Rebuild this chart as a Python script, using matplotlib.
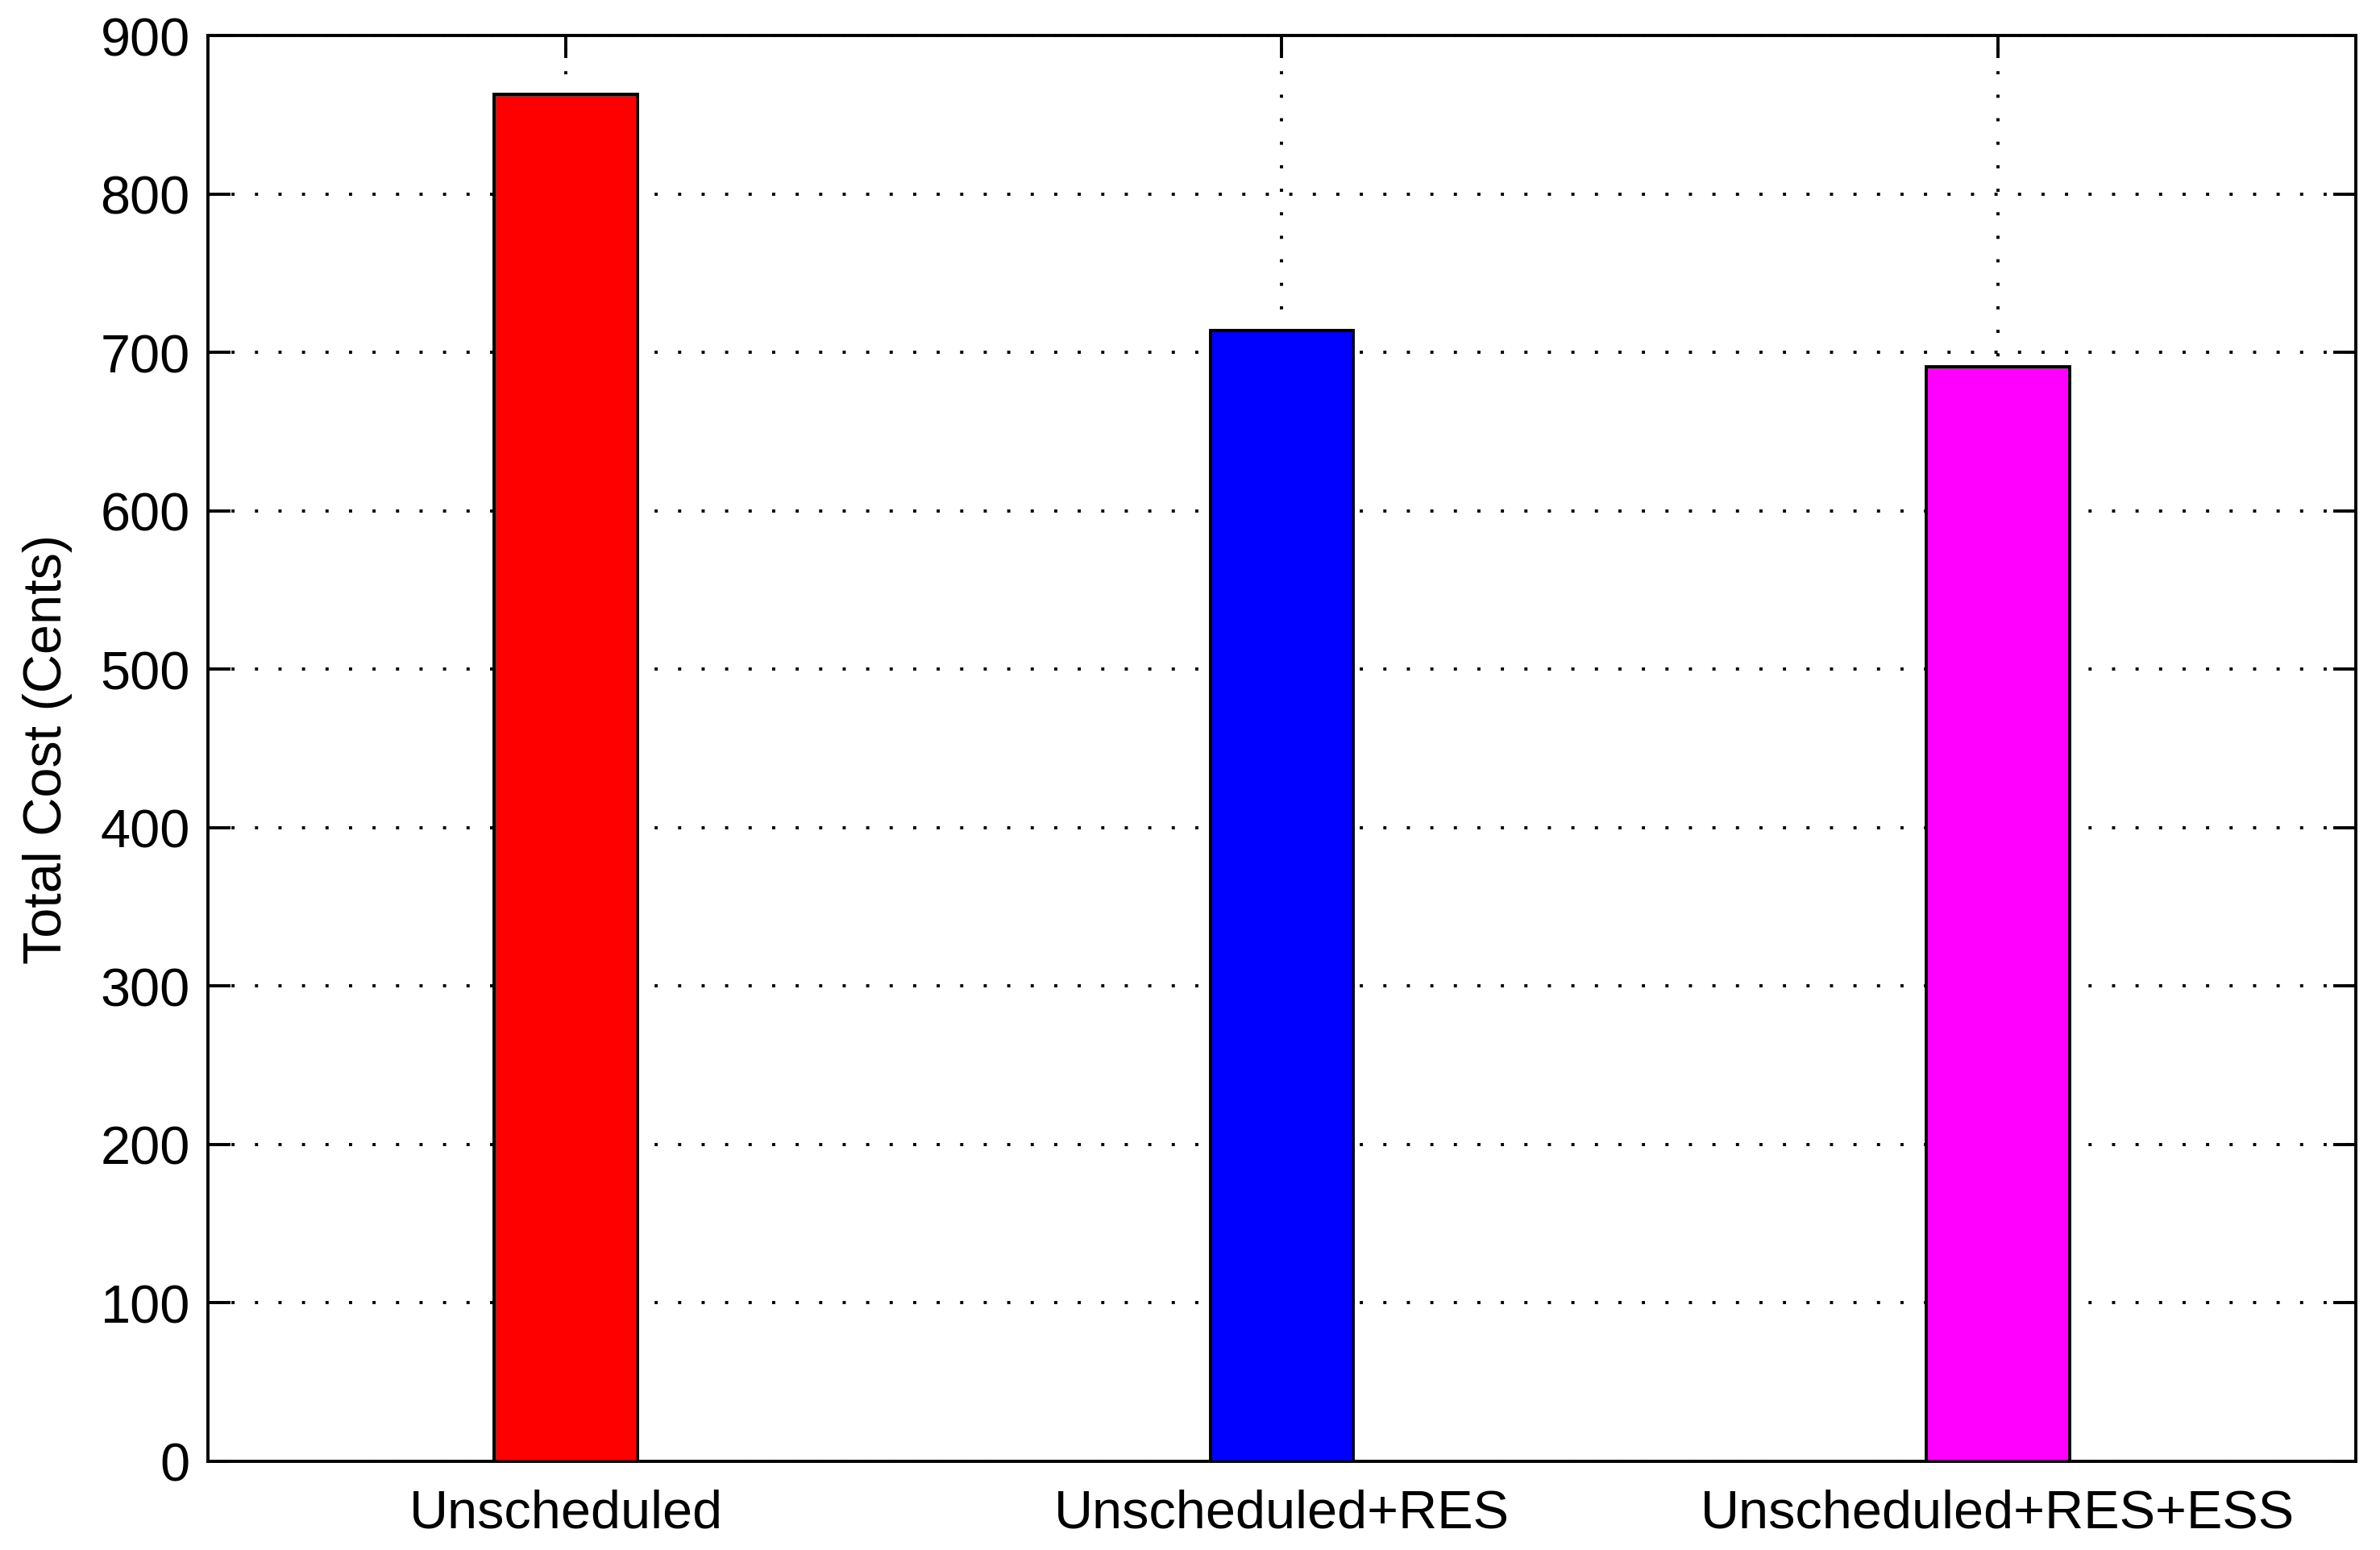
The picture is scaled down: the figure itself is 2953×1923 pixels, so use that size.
import matplotlib.pyplot as plt

plt.rcParams['font.family'] = ['Liberation Sans', 'DejaVu Sans']

# Data
categories = ["Unscheduled", "Unscheduled+RES", "Unscheduled+RES+ESS"]
total_cost = [863, 714, 691]
bar_colors = ["#ff0000", "#0000ff", "#ff00ff"]
y_ticks = [0, 100, 200, 300, 400, 500, 600, 700, 800, 900]

fig = plt.figure(figsize=(14.765, 9.62), dpi=200)
ax = fig.add_axes([0.0874, 0.0572, 0.9024, 0.9194])

x = [1, 2, 3]
ax.bar(x, total_cost, width=0.2, color=bar_colors, edgecolor="black",
       linewidth=1.4, zorder=2)

ax.set_xlim(0.5, 3.5)
ax.set_ylim(0, 900)
ax.set_xticks(x)
ax.set_xticklabels(categories)
ax.set_yticks(y_ticks)

ax.set_axisbelow(True)
ax.grid(True, color="black", linewidth=1.4, linestyle=(0, (1, 6.5)))

for sp in ax.spines.values():
    sp.set_linewidth(1.4)

ax.tick_params(direction="in", top=True, right=True, length=10, width=1.4,
               labelsize=24, pad=8)
ax.tick_params(axis="x", pad=12)
ax.set_ylabel("Total Cost (Cents)", fontsize=24)
ax.yaxis.set_label_coords(-0.063, 0.5)

fig.savefig("out.png", dpi=200)
